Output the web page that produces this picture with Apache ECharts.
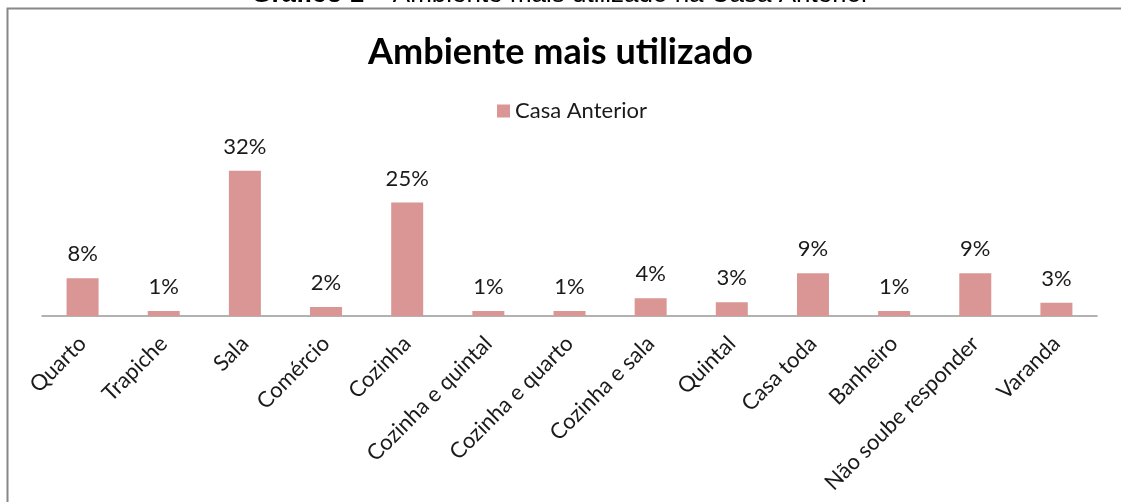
<!DOCTYPE html>
<html>
<head>
<meta charset="utf-8">
<script src="https://cdn.jsdelivr.net/npm/echarts@6/dist/echarts.min.js"></script>
<style>
  html, body { margin: 0; padding: 0; background: #fff; }
  #chart { width: 1121px; height: 502px; }
</style>
</head>
<body>
<div id="chart"></div>
<script>
// categorias e valores (%)
var categorias = ['Quarto', 'Trapiche', 'Sala', 'Comércio', 'Cozinha', 'Cozinha e quintal',
    'Cozinha e quarto', 'Cozinha e sala', 'Quintal', 'Casa toda', 'Banheiro',
    'Não soube responder', 'Varanda'];
var casaAnterior = [8.3, 1.1, 32, 2, 25, 1.1, 1.1, 3.9, 3, 9.4, 1.1, 9.4, 2.9];

var chart = echarts.init(document.getElementById('chart'));
var fonte = 'Lato, "Open Sans", sans-serif';

chart.setOption({
    animation: false,
    title: [{
        text: '{b|Gráfico 1} – Ambiente mais utilizado na Casa Anterior',
        left: 'center',
        top: -23,
        textStyle: {
            fontFamily: 'Liberation Sans, Arial', fontSize: 26, fontWeight: 'normal', color: '#000',
            rich: { b: { fontFamily: 'Liberation Sans, Arial', fontSize: 26, fontWeight: 'bold', color: '#000' } }
        }
    }, {
        text: 'Ambiente mais utilizado',
        left: 'center',
        top: 29,
        textStyle: { fontFamily: fonte, fontSize: 36, fontWeight: 'bold', color: '#000' }
    }],
    graphic: [{
        type: 'rect',
        shape: { x: 7.5, y: 8.5, width: 1200, height: 600 },
        style: { fill: 'none', stroke: '#888', lineWidth: 2 },
        silent: true
    }],
    legend: {
        top: 95,
        left: 492,
        itemWidth: 13,
        itemHeight: 13,
        itemGap: 6,
        icon: 'rect',
        textStyle: { fontFamily: fonte, fontSize: 22, color: '#1a1a1a' },
        data: ['Casa Anterior']
    },
    grid: { left: 42, right: 24, top: 157, bottom: 186 },
    xAxis: {
        type: 'category',
        data: categorias,
        axisLine: { lineStyle: { color: '#999', width: 1.5 } },
        axisTick: { show: false },
        axisLabel: {
            interval: 0,
            rotate: 45,
            margin: 24,
            fontFamily: fonte,
            fontSize: 22,
            color: '#1a1a1a'
        }
    },
    yAxis: {
        type: 'value',
        min: 0,
        max: 35,
        show: false,
        splitLine: { show: false }
    },
    series: [{
        name: 'Casa Anterior',
        type: 'bar',
        data: casaAnterior,
        barWidth: 32,
        itemStyle: { color: '#D99694' },
        label: {
            show: true,
            position: 'top',
            distance: 13,
            fontFamily: fonte,
            fontSize: 22,
            color: '#1a1a1a',
            formatter: function (p) { return Math.round(p.value) + '%'; }
        }
    }]
});
</script>
</body>
</html>
